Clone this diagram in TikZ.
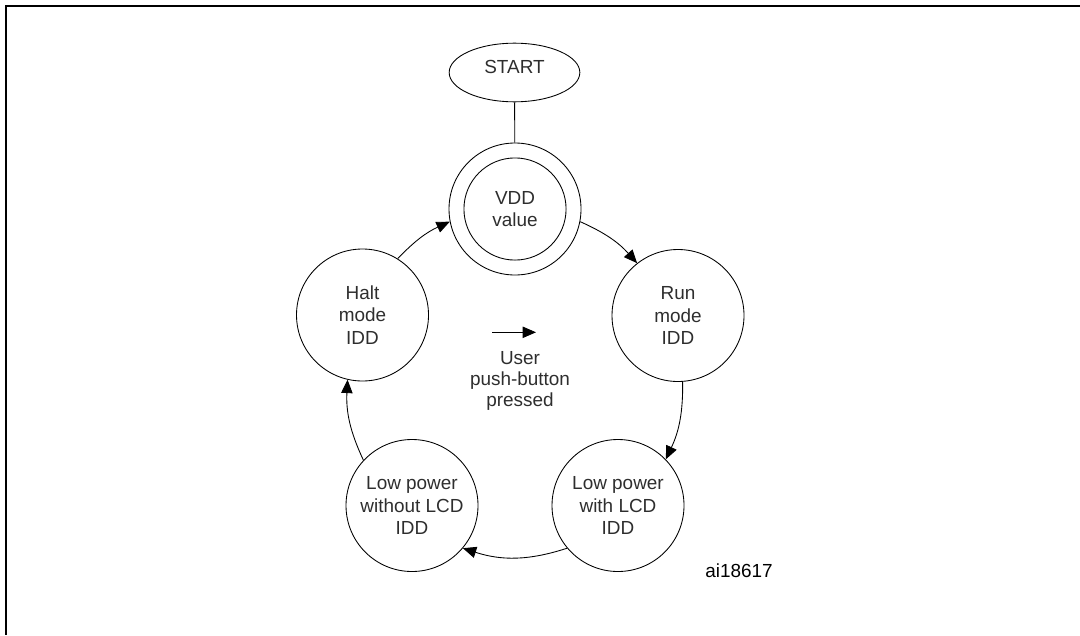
\documentclass[tikz,border=0pt]{standalone}
\usepackage{fontspec}
\setmainfont{Liberation Sans}
\usetikzlibrary{shapes.geometric,arrows.meta}
\begin{document}
\begin{tikzpicture}[x=0.75pt,y=-0.75pt,
  every node/.style={font=\fontsize{14.2pt}{17pt}\selectfont, text=black!82},
  state/.style={draw, circle, line width=0.65pt, minimum size=99pt, inner sep=0pt, align=center},
  arr/.style={line width=0.65pt, -{Triangle[length=10pt,width=8.5pt]}},
  plain/.style={line width=0.65pt}]
\useasboundingbox (0,0) rectangle (1080,635);
\draw[line width=1.5pt] (1080,6) -- (6,6) -- (6,635);
\node[draw, ellipse, line width=0.65pt, minimum width=98pt, minimum height=44pt, inner sep=0pt, text depth=8pt] (start) at (514.5,72.5) {START};
\node[state] (vdd) at (515,209) {VDD\\value};
\draw[line width=0.65pt] (vdd.center) circle (38.3pt);
\node[state] (run) at (678,315.5) {Run\\mode\\IDD};
\node[state] (lpw) at (618,505.5) {Low power\\with LCD\\IDD};
\node[state] (lpwo) at (412,505.5) {Low power\\without LCD\\IDD};
\node[state] (halt) at (362.5,315) {Halt\\mode\\IDD};
\draw[plain] (start) -- (vdd);
\draw[arr] (vdd.-11) to[bend left=12] (run.128);
\draw[arr] (run.-86) to[bend left=13] (lpw.44);
\draw[arr] (lpw.-140) to[bend left=18] (lpwo.-40);
\draw[arr] (lpwo.137) to[bend left=14] (halt.-103);
\draw[arr] (halt.58) to[bend left=11] (vdd.-169);
\coordinate (k1) at (492,332.3);
\coordinate (k2) at (536,332.3);
\draw[arr] (k1) -- (k2);
\node[align=center, font=\fontsize{14.2pt}{16pt}\selectfont] (legend) at (520,381) {User\\push-button\\pressed};
\node[text=black] (ref) at (739,571) {ai18617};
\end{tikzpicture}
\end{document}
